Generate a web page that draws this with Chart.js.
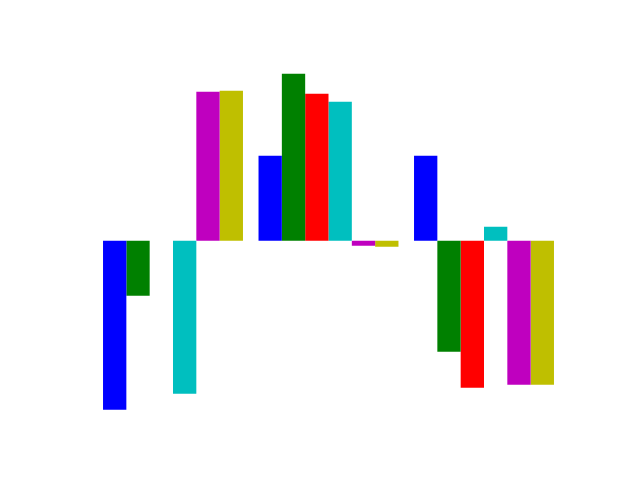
<!DOCTYPE html>
<html>
<head>
<meta charset="utf-8">
<script src="https://cdn.jsdelivr.net/npm/chart.js@4/dist/chart.umd.min.js"></script>
<style>
html,body{margin:0;padding:0;background:#fff;}
#c{display:block;}
</style>
</head>
<body>
<canvas id="c" width="640" height="480"></canvas>
<script>
const categories = ['0', '1', '2'];
const blueValues    = [-1.69, 0.85, 0.85];
const greenValues   = [-0.55, 1.67, -1.11];
const redValues     = [0, 1.47, -1.47];
const cyanValues    = [-1.53, 1.39, 0.14];
const magentaValues = [1.49, -0.05, -1.44];
const yellowValues  = [1.50, -0.06, -1.44];

const seriesList = [
  {data: blueValues, color: '#0000ff'},
  {data: greenValues, color: '#008000'},
  {data: redValues, color: '#ff0000'},
  {data: cyanValues, color: '#00bfbf'},
  {data: magentaValues, color: '#bf00bf'},
  {data: yellowValues, color: '#bfbf00'}
];

new Chart(document.getElementById('c'), {
  type: 'bar',
  data: {
    labels: categories,
    datasets: seriesList.map((s, i) => ({
      label: 'series ' + i,
      data: s.data,
      backgroundColor: s.color,
      borderWidth: 0,
      categoryPercentage: 0.9,
      barPercentage: 1.0
    }))
  },
  options: {
    responsive: false,
    animation: false,
    devicePixelRatio: 1,
    layout: {padding: {left: 95.25, right: 78.25, top: 57.6, bottom: 52.8}},
    plugins: {legend: {display: false}, tooltip: {enabled: false}},
    scales: {
      x: {display: false, offset: true},
      y: {display: false, min: -1.865, max: 1.831}
    }
  }
});
</script>
</body>
</html>
